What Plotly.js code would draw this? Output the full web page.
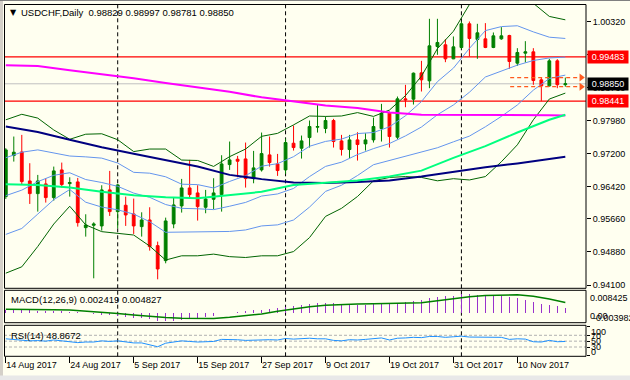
<!DOCTYPE html>
<html><head><meta charset="utf-8">
<script src="https://cdn.plot.ly/plotly-3.0.1.min.js"></script>
<style>html,body{margin:0;padding:0;background:#fffff0;overflow:hidden}#chart{width:630px;height:380px}</style>
</head><body><div id="chart"></div>
<script>
// ---------- data ----------
const symbolTitle = "USDCHF,Daily";
const lastOHLC = [0.98829, 0.98997, 0.98781, 0.98850];
const openP  = [0.96187,0.97156,0.97242,0.96557,0.96258,0.96487,0.96164,0.96817,0.96494,0.96534,0.95455,0.95510,0.95495,0.96345,0.95833,0.95983,0.95778,0.95479,0.95636,0.95030,0.94676,0.95542,0.95967,0.96392,0.96274,0.95936,0.96124,0.96235,0.96943,0.97069,0.97077,0.96613,0.96817,0.97172,0.96959,0.96817,0.97447,0.97329,0.97581,0.97825,0.97794,0.97983,0.97502,0.97298,0.97526,0.97431,0.97526,0.97794,0.98156,0.97589,0.98494,0.98486,0.99108,0.98920,0.99730,0.99770,0.99439,0.99707,1.00266,0.99896,0.99911,0.99707,0.99911,0.99990,0.99337,0.99573,0.99604,0.98943,0.98801,0.99392,0.98829];
const highP  = [0.97329,0.97605,0.97644,0.96975,0.96699,0.96620,0.96896,0.96990,0.96644,0.96628,0.95770,0.95581,0.96455,0.96794,0.96487,0.96187,0.96140,0.95817,0.95936,0.95125,0.95691,0.96164,0.96605,0.97054,0.96455,0.96345,0.96621,0.97164,0.97487,0.97148,0.97463,0.97266,0.97699,0.97605,0.97195,0.97557,0.97864,0.97628,0.97983,0.98353,0.98077,0.98022,0.97644,0.97644,0.97707,0.97683,0.98053,0.98376,0.98195,0.98549,0.98825,0.99116,0.99392,1.00384,1.00384,0.99904,0.99967,1.00321,1.00321,1.00266,1.00282,1.00061,1.00187,1.00006,0.99691,0.99856,0.99691,0.99006,0.99439,0.99431,0.98997];
const lowP   = [0.96132,0.97014,0.96463,0.96014,0.95833,0.96046,0.96093,0.96400,0.96187,0.95479,0.95243,0.94259,0.95384,0.95731,0.95439,0.95495,0.95306,0.95243,0.94912,0.94235,0.94613,0.95440,0.95810,0.96172,0.95621,0.95794,0.95888,0.95833,0.96817,0.96644,0.96400,0.96502,0.96778,0.96896,0.96676,0.96723,0.97274,0.97085,0.97345,0.97699,0.97683,0.97345,0.97156,0.97093,0.97038,0.97274,0.97463,0.97487,0.97345,0.97542,0.98297,0.98360,0.98668,0.98746,0.99534,0.99360,0.99431,0.99667,0.99494,0.99439,0.99691,0.99691,0.99888,0.99203,0.99274,0.99352,0.98825,0.98441,0.98785,0.98746,0.98781];
const closeP = [0.97290,0.97235,0.96542,0.96258,0.96557,0.96164,0.96794,0.96471,0.96518,0.95573,0.95518,0.95542,0.96345,0.95833,0.96463,0.95754,0.95495,0.95636,0.95007,0.94479,0.95613,0.95991,0.96392,0.96235,0.95951,0.96132,0.96274,0.96959,0.97054,0.97022,0.96613,0.96865,0.97203,0.96991,0.96802,0.97463,0.97345,0.97502,0.97841,0.97841,0.97983,0.97487,0.97298,0.97526,0.97416,0.97526,0.97841,0.98156,0.97605,0.98494,0.98471,0.99101,0.98943,0.99746,0.99825,0.99439,0.99722,1.00266,0.99919,1.00053,0.99707,0.99982,0.99982,0.99376,0.99589,0.99604,0.98927,0.98801,0.99392,0.98829,0.98850];

// indicator lines (sampled at every 2nd bar)
const lineIdx = [0,2,4,6,8,10,12,14,16,18,20,22,24,26,28,30,32,34,36,38,40,42,44,46,48,50,52,54,56,58,60,62,64,66,68,70];
const bbUpper2 = [0.9800,0.9813,0.9804,0.9776,0.9754,0.9766,0.9767,0.9753,0.9725,0.9731,0.9731,0.9705,0.9704,0.9690,0.9713,0.9731,0.9761,0.9768,0.9788,0.9809,0.9808,0.9809,0.9817,0.9808,0.9823,0.9857,0.9903,0.9968,1.0009,1.0072,1.0120,1.0125,1.0115,1.0075,1.0044,1.0036];
const bbUpper1 = [0.97105,0.97235,0.9729,0.97225,0.97145,0.97125,0.97095,0.9698,0.9676,0.9674,0.96655,0.9648,0.9647,0.9639,0.96545,0.9668,0.96905,0.96965,0.9713,0.97375,0.9749,0.97545,0.97675,0.977,0.97835,0.98095,0.9843,0.989,0.9922,0.99685,1.00105,1.002,1.0022,1.00075,0.9995,0.9992];
const bbMiddle = [0.9621,0.9634,0.9654,0.9669,0.9675,0.9659,0.9652,0.9643,0.9627,0.9617,0.9600,0.9591,0.9590,0.9588,0.9596,0.9605,0.9620,0.9625,0.9638,0.9666,0.9690,0.9700,0.9718,0.9732,0.9744,0.9762,0.9783,0.9812,0.9835,0.9865,0.9901,0.9915,0.9929,0.9940,0.9946,0.9948];
const bbLower1 = [0.95295,0.95435,0.95775,0.96115,0.96355,0.96055,0.9594,0.95875,0.95775,0.95595,0.95345,0.9535,0.95345,0.95355,0.95365,0.954,0.95495,0.9552,0.95635,0.9594,0.9631,0.96455,0.96685,0.9694,0.9704,0.9714,0.97235,0.9734,0.9748,0.97615,0.97835,0.9808,0.9835,0.987,0.98975,0.99055];
const bbLower2 = [0.9438,0.9453,0.9501,0.9554,0.9596,0.9552,0.9536,0.9532,0.9528,0.9502,0.9469,0.9479,0.9479,0.9483,0.9477,0.9475,0.9479,0.9479,0.9489,0.9522,0.9572,0.9591,0.9619,0.9656,0.9664,0.9666,0.9664,0.9656,0.9661,0.9658,0.9666,0.9701,0.9741,0.9800,0.9849,0.9863];
// moving averages (sampled at every 4th bar)
const maIdx = [0,4,8,12,16,20,24,28,32,36,40,44,48,52,56,60,64,68,70];
const maNavy    = [0.9784,0.9771,0.9753,0.9735,0.9720,0.9705,0.9690,0.9670,0.9660,0.9652,0.9651,0.9653,0.9657,0.9666,0.9677,0.9688,0.9697,0.9707,0.9713];
const maSpring  = [0.9648,0.9646,0.9640,0.9630,0.9622,0.9617,0.9615,0.9622,0.9630,0.9646,0.9652,0.9657,0.9666,0.9680,0.9710,0.9738,0.9770,0.9800,0.9812];
const maMagenta = [0.9929,0.9927,0.9917,0.9908,0.9898,0.9887,0.9876,0.9866,0.9853,0.9843,0.9834,0.9828,0.9817,0.9812,0.9812,0.9812,0.9811,0.9811,0.9810];

const levelLines = [0.99483, 0.98441];
const dayHigh = 0.98997, dayLow = 0.98781;

const macdMain = [0.0016,0.0016,0.0015,0.0014,0.0013,0.0011,0.0010,0.0009,0.0007,0.0005,0.0002,-0.0003,-0.0005,-0.0008,-0.0010,-0.0014,-0.0018,-0.0021,-0.0026,-0.0033,-0.0035,-0.0032,-0.0028,-0.0025,-0.0022,-0.0017,-0.0010,0.0000,0.0004,0.0007,0.0010,0.0014,0.0017,0.0021,0.0025,0.0030,0.0033,0.0038,0.0041,0.0045,0.0045,0.0045,0.00421,0.00407,0.00378,0.00378,0.00407,0.00436,0.00436,0.0045,0.00494,0.00567,0.00596,0.00668,0.00727,0.0077,0.0077,0.00843,0.00843,0.00828,0.00814,0.008,0.00756,0.00727,0.00668,0.00581,0.00494,0.00436,0.00378,0.00334,0.002419];
const macdSignal = [0.0019,0.0019,0.0018,0.0017,0.0015,0.0011,0.0006,0.0000,-0.0007,-0.0013,-0.0018,-0.0021,-0.0022,-0.0022,-0.0017,-0.0010,-0.0002,0.0010,0.0020,0.0030,0.0036,0.0040,0.0042,0.0043,0.0044,0.0045,0.0047,0.0056,0.0066,0.0074,0.0079,0.0082,0.0082,0.0076,0.0064,0.004827];
const rsi = [58,56,52.6,51,52,50,54,51,50,45,47,47,51,49,51,47,44,44,38.6,31,43,47,51,49,47,48,49,56,56,54.8,52.6,54,56,55,54,59,57,58,60,58,58,52.6,51,55,54,56,59,61,54,60,61,63,62,66,66,63,65,67,64,64,62,63,63,56,58,57,48,47,52.6,48,48.8672];

const dateTickIdx = [0,8,16,24,32,40,48,56,64];
const dateTickText = ["14 Aug 2017","24 Aug 2017","5 Sep 2017","15 Sep 2017","27 Sep 2017","9 Oct 2017","19 Oct 2017","31 Oct 2017","10 Nov 2017"];
const priceTickVals = [1.0032,0.9954,0.9876,0.9798,0.9720,0.9642,0.9566,0.9488,0.9410];
const priceTickText = ["1.00320","0.99540","0.98760","0.97980","0.97200","0.96420","0.95660","0.94880","0.94100"];
const periodSeparators = [14,35,57];
const macdScale = ["0.008425","0.00","-0.003982"];
const rsiScale = ["100","70","50","30","0"];
const rsiLevels = [70,50,30];

// ---------- drawing ----------
const W = 630, H = 380;
const px = v => v / W, py = v => 1 - v / H;
const barX = openP.map((_, i) => i);
const F = 'Liberation Sans, Arial, sans-serif';

const thin = (x, y, color, width, ya) => ({type:'scatter', mode:'lines', x, y, yaxis: ya||'y', line:{color, width}, hoverinfo:'skip'});

const traces = [
  thin(lineIdx, bbUpper2, '#006400', 1),
  thin(lineIdx, bbLower2, '#006400', 1),
  thin(lineIdx, bbUpper1, '#6495ED', 1),
  thin(lineIdx, bbMiddle, '#6495ED', 1),
  thin(lineIdx, bbLower1, '#6495ED', 1),
  thin(maIdx, maMagenta, '#FF00FF', 2),
  thin(maIdx, maNavy, '#000080', 2),
  thin(maIdx, maSpring, '#00FF7F', 2),
  {type:'candlestick', x: barX, open: openP, high: highP, low: lowP, close: closeP,
   increasing:{line:{color:'#008000', width:1}, fillcolor:'#008000'},
   decreasing:{line:{color:'#FF0000', width:1}, fillcolor:'#FF0000'},
   whiskerwidth:0, hoverinfo:'skip'},
  {type:'scatter', mode:'lines', x:[63.1, 71.6], y:[dayHigh, dayHigh], line:{color:'#FF5A1E', width:1.3, dash:'4px,3px'}, hoverinfo:'skip'},
  {type:'scatter', mode:'lines', x:[63.1, 71.6], y:[dayLow, dayLow], line:{color:'#FF5A1E', width:1.3, dash:'4px,3px'}, hoverinfo:'skip'},
  {type:'scatter', mode:'markers', x:[72.0, 72.0], y:[dayHigh, dayLow], marker:{symbol:'triangle-right', size:7, color:'#FF5A1E'}, hoverinfo:'skip'},
  {type:'bar', x: barX, y: macdMain, yaxis:'y2', width:0.14, marker:{color:'#9932CC', line:{width:0}}, hoverinfo:'skip'},
  thin(lineIdx, macdSignal, '#008000', 1.5, 'y2'),
  thin(barX, rsi, '#1E90FF', 1, 'y3')
];

const shapes = [];
shapes.push({type:'line', xref:'paper', x0:px(4), x1:px(586), yref:'y', y0:lastOHLC[3], y1:lastOHLC[3], line:{color:'#C0C0C0', width:1}, layer:'below'});
levelLines.forEach(v => shapes.push({type:'line', xref:'paper', x0:px(4), x1:px(586), yref:'y', y0:v, y1:v, line:{color:'#FF0000', width:1.2}, layer:'below'}));
rsiLevels.forEach(v => shapes.push({type:'line', xref:'paper', x0:px(4), x1:px(586), yref:'y3', y0:v, y1:v, line:{color:'#B0B0B0', width:1, dash:'3px,2px'}, layer:'below'}));
periodSeparators.forEach(i => ['y','y2','y3'].forEach(a => shapes.push({type:'line', xref:'x', x0:i, x1:i, yref:a+' domain', y0:0, y1:1, line:{color:'#000000', width:1, dash:'4px,3px'}, layer:'below'})));
[[4.5,4.5,586,288.3],[4.5,290.3,586,322.7],[4.5,325.3,586,356.3]].forEach(r => shapes.push({type:'rect', xref:'paper', yref:'paper', x0:px(r[0]), x1:px(r[2]), y0:py(r[3]), y1:py(r[1]), line:{color:'#000000', width:1}, fillcolor:'rgba(0,0,0,0)', layer:'above'}));
shapes.push({type:'rect', xref:'paper', yref:'paper', x0:0, x1:px(3), y0:0, y1:1, line:{width:0}, fillcolor:'#D4D0C8', layer:'above'});
shapes.push({type:'rect', xref:'paper', yref:'paper', x0:0, x1:1, y0:0, y1:py(375.5), line:{width:0}, fillcolor:'#E8E8E8', layer:'above'});
shapes.push({type:'rect', xref:'paper', yref:'paper', x0:0, x1:1, y0:py(1), y1:1, line:{width:0}, fillcolor:'#808080', layer:'above'});

const ann = [];
const txt = (x, y, text, opts) => Object.assign({xref:'paper', yref:'paper', x:px(x), y:py(y), text, showarrow:false, xanchor:'left', yanchor:'middle', font:{family:F, size:9.5, color:'#000000'}}, opts||{});
ann.push(txt(8, 13, '▼', {font:{family:'DejaVu Sans', size:8, color:'#000000'}}));
ann.push(txt(19, 13, symbolTitle + '  ' + lastOHLC.map(v => v.toFixed(5)).join(' ')));
ann.push(txt(8.5, 299.7, 'MACD(12,26,9) ' + macdMain[macdMain.length-1].toFixed(6) + ' ' + macdSignal[macdSignal.length-1].toFixed(6)));
ann.push(txt(8.5, 335, 'RSI(14) ' + rsi[rsi.length-1].toFixed(4)));
ann.push(txt(588, 297.5, macdScale[0], {font:{family:F, size:9, color:'#000000'}}));
ann.push(txt(588, 315.5, macdScale[1], {font:{family:F, size:9, color:'#000000'}}));
ann.push(txt(591, 318.3, macdScale[2], {font:{family:F, size:9, color:'#000000'}}));
[[331.5],[335.5],[341],[347],[351.5]].forEach((p, k) => ann.push(txt(589, p[0], rsiScale[k], {font:{family:F, size:9, color:'#000000'}})));
const box = (v, bg) => ({xref:'paper', yref:'y', x:px(587), y:v, xanchor:'left', yanchor:'middle', showarrow:false, text:v.toFixed(5), font:{family:F, size:9, color:'#FFFFFF'}, bgcolor:bg, width:38, height:10, borderpad:1, align:'center'});
ann.push(box(levelLines[0], '#FF0000'));
ann.push(box(levelLines[1], '#FF0000'));
ann.push(box(lastOHLC[3], '#000000'));

const layout = {
  width: W, height: H, margin:{l:0, r:0, t:0, b:0},
  paper_bgcolor:'#FFFFF0', plot_bgcolor:'#FFFFF0', showlegend:false, boxgap:0.5, bargap:0,
  font:{family:F, size:9, color:'#000000'},
  xaxis:{domain:[px(4.5), px(586)], range:[-0.1625, 72.5875], anchor:'y3', tickmode:'array', tickvals:dateTickIdx, ticktext:dateTickText,
         ticks:'outside', ticklen:6, tickcolor:'#000000', ticklabelposition:'outside right', showgrid:false, zeroline:false, showline:false,
         rangeslider:{visible:false}, tickfont:{family:F, size:9, color:'#000000'}, fixedrange:true},
  yaxis:{domain:[py(288.3), py(4.5)], range:[0.940229, 1.007215], side:'right', anchor:'x', tickmode:'array', tickvals:priceTickVals, ticktext:priceTickText,
         ticks:'outside', ticklen:4, tickcolor:'#000000', showgrid:false, zeroline:false, showline:false, tickfont:{family:F, size:9, color:'#000000'}, fixedrange:true},
  yaxis2:{domain:[py(322.7), py(290.3)], range:[-0.00404, 0.01019], side:'right', anchor:'x', showticklabels:false, ticks:'', showgrid:false, zeroline:false, fixedrange:true},
  yaxis3:{domain:[py(356.3), py(325.3)], range:[-1.7, 104.1], side:'right', anchor:'x', tickmode:'array', tickvals:[0,30,50,70,100], showticklabels:false, ticks:'outside', ticklen:3, tickcolor:'#000000', showgrid:false, zeroline:false, fixedrange:true},
  shapes, annotations: ann
};
Plotly.newPlot('chart', traces, layout, {staticPlot:true, displayModeBar:false});
</script></body></html>
